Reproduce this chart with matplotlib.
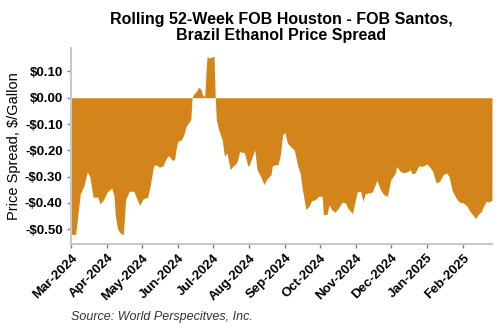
import matplotlib.pyplot as plt
import matplotlib.dates as mdates
import pandas as pd

dates = [
    "2024-03-01", "2024-03-05", "2024-03-09", "2024-03-12", "2024-03-15", "2024-03-17",
    "2024-03-20", "2024-03-24", "2024-03-26", "2024-03-29", "2024-04-01", "2024-04-05",
    "2024-04-07", "2024-04-08", "2024-04-10", "2024-04-13", "2024-04-15", "2024-04-17",
    "2024-04-20", "2024-04-24", "2024-04-26", "2024-04-29", "2024-05-02", "2024-05-06",
    "2024-05-08", "2024-05-11", "2024-05-13", "2024-05-16", "2024-05-19", "2024-05-22",
    "2024-05-24", "2024-05-27", "2024-05-29", "2024-05-31", "2024-06-01", "2024-06-04",
    "2024-06-06", "2024-06-08", "2024-06-10", "2024-06-12", "2024-06-13", "2024-06-14",
    "2024-06-16", "2024-06-19", "2024-06-21", "2024-06-22", "2024-06-24", "2024-06-25",
    "2024-06-26", "2024-06-28", "2024-07-01", "2024-07-02", "2024-07-03", "2024-07-04",
    "2024-07-06", "2024-07-09", "2024-07-11", "2024-07-13", "2024-07-14", "2024-07-16",
    "2024-07-18", "2024-07-20", "2024-07-22", "2024-07-24", "2024-07-26", "2024-07-28",
    "2024-07-31", "2024-08-01", "2024-08-04", "2024-08-06", "2024-08-08", "2024-08-11",
    "2024-08-14", "2024-08-16", "2024-08-20", "2024-08-21", "2024-08-23", "2024-08-26",
    "2024-08-28", "2024-08-30", "2024-09-01", "2024-09-03", "2024-09-07", "2024-09-09",
    "2024-09-12", "2024-09-14", "2024-09-16", "2024-09-19", "2024-09-22", "2024-09-24",
    "2024-09-27", "2024-09-30", "2024-10-03", "2024-10-04", "2024-10-07", "2024-10-09",
    "2024-10-11", "2024-10-14", "2024-10-17", "2024-10-20", "2024-10-23", "2024-10-25",
    "2024-10-29", "2024-10-31", "2024-11-02", "2024-11-05", "2024-11-07", "2024-11-09",
    "2024-11-12", "2024-11-15", "2024-11-17", "2024-11-19", "2024-11-22", "2024-11-25",
    "2024-11-28", "2024-12-01", "2024-12-05", "2024-12-06", "2024-12-09", "2024-12-12",
    "2024-12-16", "2024-12-18", "2024-12-19", "2024-12-22", "2024-12-25", "2024-12-28",
    "2024-12-30", "2025-01-01", "2025-01-04", "2025-01-06", "2025-01-09", "2025-01-12",
    "2025-01-15", "2025-01-18", "2025-01-20", "2025-01-23", "2025-01-26", "2025-01-29",
    "2025-02-01", "2025-02-04", "2025-02-07", "2025-02-10", "2025-02-12", "2025-02-14",
    "2025-02-17", "2025-02-18", "2025-02-21", "2025-02-23", "2025-02-26",
]

spread = [
    -0.52, -0.52, -0.365, -0.337, -0.284, -0.297,
    -0.379, -0.378, -0.404, -0.388, -0.36, -0.343,
    -0.375, -0.445, -0.50, -0.518, -0.52, -0.388,
    -0.356, -0.356, -0.378, -0.41, -0.385, -0.378,
    -0.337, -0.26, -0.255, -0.264, -0.26, -0.23,
    -0.22, -0.238, -0.236, -0.179, -0.166, -0.16,
    -0.141, -0.109, -0.096, -0.084, -0.008, 0.011,
    0.02, 0.04, 0.03, 0.011, 0.005, 0.094,
    0.157, 0.151, 0.157, 0.157, 0.0, -0.084,
    -0.122, -0.16, -0.223, -0.21, -0.23, -0.274,
    -0.261, -0.255, -0.242, -0.204, -0.208, -0.208,
    -0.259, -0.259, -0.223, -0.198, -0.274, -0.299,
    -0.331, -0.312, -0.293, -0.261, -0.255, -0.255,
    -0.217, -0.141, -0.132, -0.172, -0.191, -0.198,
    -0.261, -0.286, -0.35, -0.426, -0.41, -0.392,
    -0.388, -0.375, -0.375, -0.445, -0.445, -0.407,
    -0.426, -0.436, -0.42, -0.398, -0.40, -0.42,
    -0.441, -0.40, -0.359, -0.356, -0.394, -0.365,
    -0.362, -0.359, -0.337, -0.314, -0.35, -0.369,
    -0.375, -0.312, -0.286, -0.261, -0.28, -0.286,
    -0.28, -0.274, -0.29, -0.286, -0.259, -0.261,
    -0.257, -0.252, -0.267, -0.28, -0.324, -0.318,
    -0.293, -0.286, -0.299, -0.356, -0.381, -0.398,
    -0.40, -0.41, -0.432, -0.449, -0.46, -0.445,
    -0.432, -0.419, -0.394, -0.397, -0.39,
]

x = pd.to_datetime(dates)

plt.rcParams['font.family'] = ['Liberation Sans', 'DejaVu Sans']

fig = plt.figure(figsize=(5, 3.3), dpi=100)
ax = fig.add_axes([0.142, 0.262, 0.842, 0.593])

ax.fill_between(x, spread, 0, color='#d3841a', linewidth=0)

ax.set_xlim(pd.Timestamp("2024-03-01"), pd.Timestamp("2025-02-26"))
ax.set_ylim(-0.555, 0.19)
ax.set_yticks([0.10, 0.0, -0.10, -0.20, -0.30, -0.40, -0.50])
ax.set_yticklabels(['$0.10', '$0.00', '-$0.10', '-$0.20', '-$0.30', '-$0.40', '-$0.50'],
                   fontsize=9.5, fontweight='bold')

ax.xaxis.set_major_locator(mdates.MonthLocator())
ax.xaxis.set_major_formatter(mdates.DateFormatter('%b-%Y'))
plt.setp(ax.get_xticklabels(), rotation=45, ha='right', rotation_mode='anchor',
         fontsize=9.5, fontweight='bold')

for s in ['top', 'right']:
    ax.spines[s].set_visible(False)
for s in ['left', 'bottom']:
    ax.spines[s].set_color('#c8c8c8')
    ax.spines[s].set_linewidth(1.5)
ax.tick_params(axis='both', color='#808080', length=3, width=1, pad=3)

ax.set_ylabel('Price Spread, $/Gallon', fontsize=10.5, labelpad=3)
ax.set_title('Rolling 52-Week FOB Houston - FOB Santos,\nBrazil Ethanol Price Spread',
             fontsize=11.5, fontweight='bold', pad=6, linespacing=1.05)

fig.text(0.142, 0.03, 'Source: World Perspecitves, Inc.', fontsize=9,
         style='italic', color='#333333')

fig.savefig('out.png', dpi=100)
